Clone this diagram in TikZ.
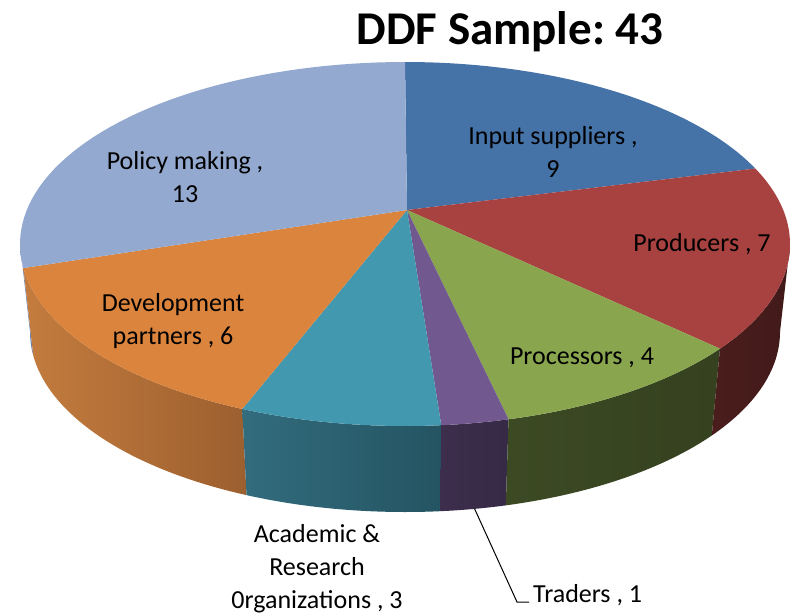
\documentclass[tikz,border=0pt]{standalone}
\usepackage{fontspec}
\setmainfont{Carlito}
\frenchspacing
\definecolor{cInput}{RGB}{69,114,167}
\definecolor{cProd}{RGB}{168,66,64}
\definecolor{cProc}{RGB}{137,165,78}
\definecolor{cTrad}{RGB}{113,88,143}
\definecolor{cAcad}{RGB}{65,152,175}
\definecolor{cDev}{RGB}{219,132,61}
\definecolor{cPol}{RGB}{147,169,207}
\definecolor{sPolL}{RGB}{125,145,190}
\definecolor{sPolR}{RGB}{110,130,175}
\definecolor{sDevL}{RGB}{196,124,62}
\definecolor{sDevR}{RGB}{156,95,47}
\definecolor{sAcadL}{RGB}{50,108,125}
\definecolor{sAcadR}{RGB}{36,84,98}
\definecolor{sTradL}{RGB}{60,46,76}
\definecolor{sTradR}{RGB}{55,42,70}
\definecolor{sProcL}{RGB}{60,74,36}
\definecolor{sProcR}{RGB}{53,65,31}
\definecolor{sProdL}{RGB}{74,29,28}
\definecolor{sProdR}{RGB}{66,26,26}
\newcommand\mypieside[4]{%
  \shade[left color=#3,right color=#4]
    plot[domain=#1:#2,samples=40] ({405+385*cos(\x)},{244-182*sin(\x)})
    -- plot[domain=#2:#1,samples=40] ({405+375*cos(\x)},{332-180*sin(\x)}) -- cycle;}
\newcommand\mypietop[3]{%
  \fill[#3] (407,210) -- plot[domain=#1:#2,samples=50] ({405+385*cos(\x)},{244-182*sin(\x)}) -- cycle;}
\tikzset{
  lbl/.style={font=\fontsize{26}{33}\selectfont, align=center, inner sep=0pt},
  ttl/.style={font=\fontsize{47}{56}\selectfont\bfseries, inner sep=0pt},
  leader/.style={draw=black, line width=1pt}
}
\begin{document}
\begin{tikzpicture}[x=1pt,y=-1pt]
\useasboundingbox (0,0) rectangle (791,615);
% sides
\mypieside{-180}{-172.4}{sPolL}{sPolR}
\mypieside{-172.4}{-115}{sDevL}{sDevR}
\mypieside{-115}{-84.6}{sAcadL}{sAcadR}
\mypieside{-84.6}{-74.4}{sTradL}{sTradR}
\mypieside{-74.4}{-35.1}{sProcL}{sProcR}
\mypieside{-35.1}{0}{sProdL}{sProdR}
% tops
\mypietop{90}{24.5}{cInput}
\mypietop{24.5}{-35.1}{cProd}
\mypietop{-35.1}{-74.4}{cProc}
\mypietop{-74.4}{-84.6}{cTrad}
\mypietop{-84.6}{-115}{cAcad}
\mypietop{-115}{-172.4}{cDev}
\mypietop{187.6}{90}{cPol}
% title
\node[ttl, anchor=base] (title) at (510,45) {DDF Sample: 43};
% labels
\node[lbl] (lInput) at (553,152) {Input suppliers ,\\9};
\node[lbl, anchor=base] (lProd) at (702,251) {Producers , 7};
\node[lbl, anchor=base] (lProc) at (582,364) {Processors , 4};
\node[lbl] (lPol) at (185,177) {Policy making ,\\13};
\node[lbl] (lDev) at (173,321) {Development\\partners , 6};
\node[lbl] (lAcad) at (317,569) {Academic \&\\Research\\0rganizations , 3};
\node[lbl, anchor=base west] (lTrad) at (533,602) {Traders , 1};
% leader
\coordinate (trS) at ({405+375*cos(-79.3)},{332-180*sin(-79.3)});
\coordinate (trB) at (517,602);
\draw[leader] (trS) -- (trB) -- ([xshift=-4pt]lTrad.base west);
\end{tikzpicture}
\end{document}
